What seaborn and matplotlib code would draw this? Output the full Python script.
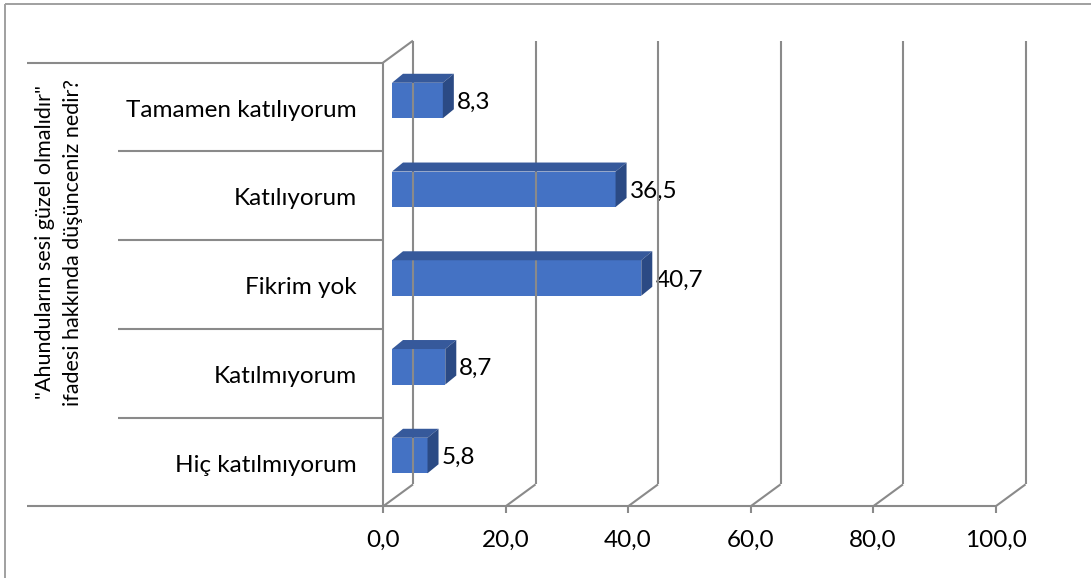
import numpy as np
import pandas as pd
import matplotlib
matplotlib.use("Agg")
import matplotlib.pyplot as plt
from matplotlib.patches import Polygon
import seaborn as sns

# --- data ---
categories = ["Tamamen katılıyorum", "Katılıyorum", "Fikrim yok", "Katılmıyorum", "Hiç katılmıyorum"]
values = [8.3, 36.5, 40.7, 8.7, 5.8]
value_labels = ["8,3", "36,5", "40,7", "8,7", "5,8"]
xticks = [0, 20, 40, 60, 80, 100]
xtick_labels = ["0,0", "20,0", "40,0", "60,0", "80,0", "100,0"]
axis_title = '"Ahunduların sesi güzel olmalıdır"\nifadesi hakkında düşünceniz nedir?'

# --- style ---
W, H, DPI = 1091, 578, 100
GRID = "#8a8a8a"
FRONT, TOP, SIDE = "#4472C4", "#36599B", "#2B4A84"
CAT_FONT = 17.5
NUM_FONT = 17.5
TITLE_FONT = 15.5

sns.set_theme(style="white")
plt.rcParams['font.family'] = ['Lato', 'DejaVu Sans']
plt.rcParams['text.color'] = '#000000'

fig = plt.figure(figsize=(W / DPI, H / DPI), dpi=DPI)
fig.patch.set_facecolor("white")
# axes = the plane the bars sit in (a bit behind the front wall)
ax = fig.add_axes([392 / W, (H - 499.9) / H, 612.5 / W, 443.75 / H])

df = pd.DataFrame({"cat": categories, "val": values})
sns.barplot(data=df, y="cat", x="val", orient="h", color=FRONT, saturation=1,
            width=0.4, ax=ax, zorder=3, linewidth=0, edgecolor="none")
ax.set_xlim(0, 100)
ax.set_ylim(4.5, -0.5)
ax.axis("off")

# pixel offsets of the front and back planes relative to the bar plane
FRONT_OFF = (-9, -6.5)
BACK_OFF = (21, 15.5)
DEPTH = (11, 9)

to_fig = fig.transFigure.inverted()


def pt(x, y, off=(0, 0)):
    d = ax.transData.transform((x, y)) + np.array(off) * DPI / 100
    return to_fig.transform(d)


def line(p, q, lw=1.5, color=GRID, z=1):
    fig.add_artist(plt.Line2D([p[0], q[0]], [p[1], q[1]], color=color, lw=lw,
                              zorder=z, solid_capstyle="butt"))


# walls and gridlines
ymin, ymax = -0.5, 4.5
for x, lab in zip(xticks, xtick_labels):
    line(pt(x, ymin, BACK_OFF), pt(x, ymax, BACK_OFF))
    line(pt(x, ymax, FRONT_OFF), pt(x, ymax, BACK_OFF))
    tb = pt(x, ymax, FRONT_OFF)
    line(tb, (tb[0], tb[1] - 7 / H))
    ax.text(*pt(x, ymax, (FRONT_OFF[0], FRONT_OFF[1] - 34)), lab,
            transform=fig.transFigure, ha="center", va="center", fontsize=NUM_FONT)
line(pt(0, ymin, FRONT_OFF), pt(0, ymin, BACK_OFF))
line(pt(0, ymin, FRONT_OFF), pt(0, ymax, FRONT_OFF))
line(pt(0, ymax, FRONT_OFF), pt(100, ymax, FRONT_OFF))

# category separators on the left
for k in range(len(categories) + 1):
    y = k - 0.5
    p = pt(0, y, FRONT_OFF)
    x_left = 27 if k in (0, len(categories)) else 118
    line((x_left / W, p[1]), p)

# 3D faces of the bars + value labels
for patch, lab in zip(ax.patches, value_labels):
    x0, y0 = patch.get_x(), patch.get_y()
    w, h = patch.get_width(), patch.get_height()
    x1, y1 = x0 + w, y0 + h
    top = [pt(x0, y0), pt(x1, y0), pt(x1, y0, DEPTH), pt(x0, y0, DEPTH)]
    side = [pt(x1, y0), pt(x1, y1), pt(x1, y1, DEPTH), pt(x1, y0, DEPTH)]
    fig.add_artist(Polygon(top, closed=True, facecolor=TOP, edgecolor="none",
                           transform=fig.transFigure, zorder=3))
    fig.add_artist(Polygon(side, closed=True, facecolor=SIDE, edgecolor="none",
                           transform=fig.transFigure, zorder=3))
    ax.text(*pt(x1, y0 + h / 2, (14, -2)), lab, transform=fig.transFigure,
            ha="left", va="center", fontsize=NUM_FONT)

# category labels
for i, c in enumerate(categories):
    ax.text(*pt(0, i, (FRONT_OFF[0] - 26, FRONT_OFF[1] - 3)), c, transform=fig.transFigure,
            ha="right", va="center", fontsize=CAT_FONT)

# axis title
fig.text(59 / W, 1 - 242 / H, axis_title, rotation=90, ha="center", va="center",
         fontsize=TITLE_FONT, linespacing=1.45, multialignment="center")

# outer frame (only left/top visible in the crop)
line((5 / W, 0), (5 / W, 1 - 4 / H), lw=1.4, color="#a0a0a0", z=5)
line((5 / W, 1 - 4 / H), (1, 1 - 4 / H), lw=1.4, color="#a0a0a0", z=5)

fig.savefig("out.png", dpi=DPI, facecolor="white")
